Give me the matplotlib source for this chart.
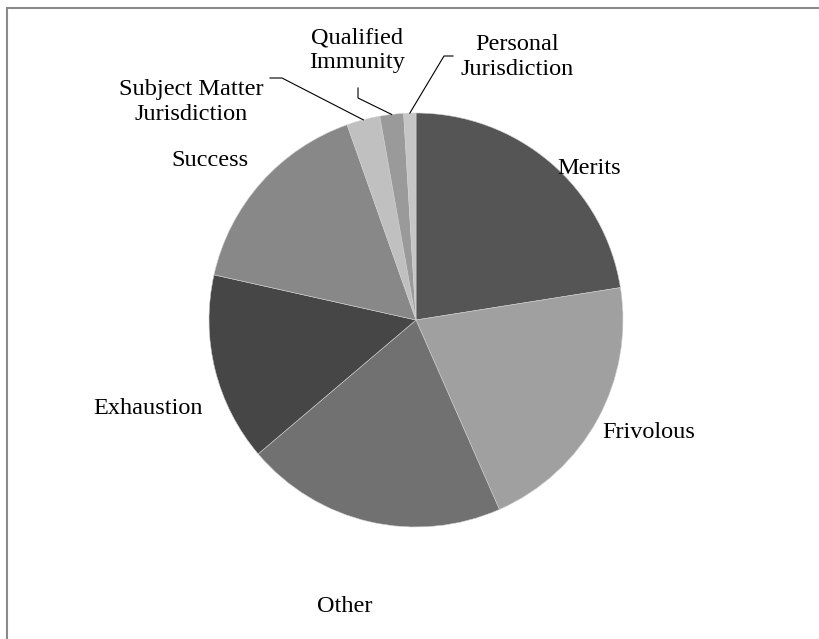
import matplotlib
matplotlib.use("Agg")
import matplotlib.pyplot as plt
import numpy as np

W, H = 819, 639

categories = ["Merits", "Frivolous", "Other", "Exhaustion", "Success",
              "Subject Matter\nJurisdiction", "Qualified\nImmunity",
              "Personal\nJurisdiction"]
shares = [22.5, 20.9, 20.4, 14.7, 16.1, 2.6, 1.85, 0.95]
colors = ["#555555", "#a0a0a0", "#717171", "#464646", "#888888",
          "#c0c0c0", "#9a9a9a", "#c6c6c6"]

# label centres in pixel coords (x, y from top)
label_pos = [(589, 168), (649, 433), (345, 606), (148, 408), (210, 160),
             (191, 102), (357, 50), (517, 57)]
# leader lines for the small slices: polyline start points (pixel coords)
leaders = {
    5: [(270, 78), (282, 78)],
    6: [(358, 88), (358, 98)],
    7: [(453, 56), (444, 56)],
}

CX, CY, R = 416, 320, 207


def main():
    fig = plt.figure(figsize=(W / 100, H / 100), dpi=100)
    ax = fig.add_axes([0, 0, 1, 1])
    wedges, _ = ax.pie(shares, colors=colors, startangle=90, counterclock=False,
                       center=(CX, H - CY), radius=R,
                       wedgeprops=dict(linewidth=0.4, edgecolor="#d0d0d0"))
    ax.set_xlim(0, W)
    ax.set_ylim(0, H)
    ax.set_aspect("equal")
    ax.axis("off")

    font = dict(family="Liberation Serif", fontsize=17.5, color="black")
    for i, (lab, (x, y)) in enumerate(zip(categories, label_pos)):
        ax.text(x, H - y, lab, ha="center", va="center", linespacing=1.2, **font)

    for i, pts in leaders.items():
        w = wedges[i]
        mid = np.deg2rad((w.theta1 + w.theta2) / 2)
        ex = CX + R * np.cos(mid)
        ey = H - CY + R * np.sin(mid)
        xs = [p[0] for p in pts] + [ex]
        ys = [H - p[1] for p in pts] + [ey]
        ax.plot(xs, ys, color="black", lw=0.8)

    # frame (only the top and left edges show in the crop)
    ax.plot([7, 7, W + 20], [-20, H - 8, H - 8], color="#8a8a8a", lw=1.5,
            solid_joinstyle="miter", clip_on=False)

    fig.savefig("out.png", dpi=100, facecolor="white")


if __name__ == "__main__":
    main()
